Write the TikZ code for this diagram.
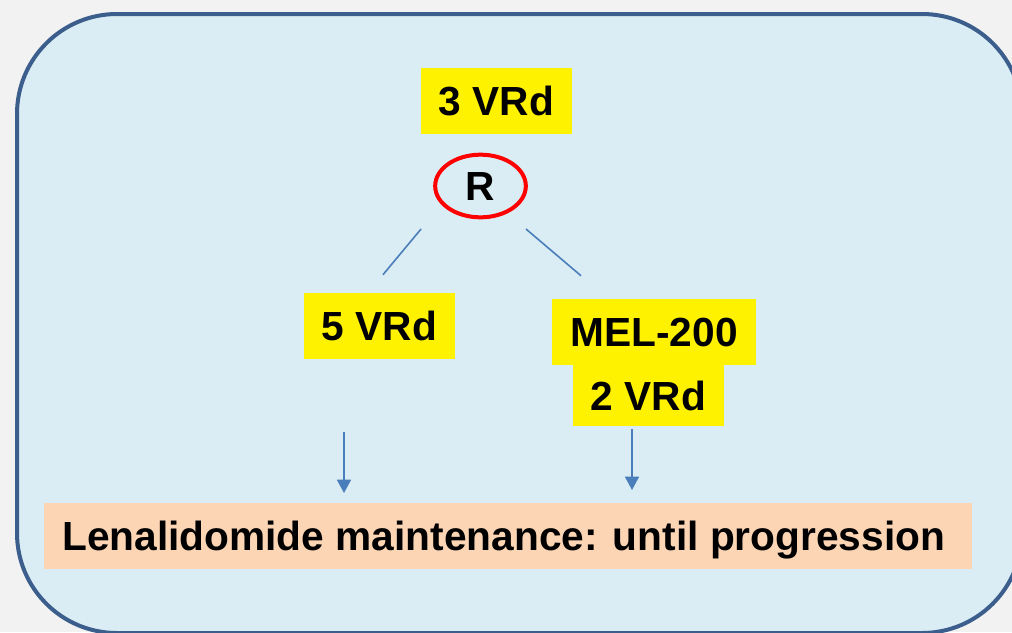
\documentclass[tikz,border=0pt]{standalone}
\usepackage{fontspec}
\setmainfont{Liberation Sans}
\usetikzlibrary{shapes,arrows.meta}
\usetikzlibrary{positioning}

\definecolor{pagegrey}{HTML}{F2F2F2}
\definecolor{panelfill}{HTML}{DBEDF4}
\definecolor{paneledge}{HTML}{3B5E8C}
\definecolor{linkblue}{HTML}{4A7EBB}
\definecolor{peach}{HTML}{FCD5B4}

\begin{document}
\begin{tikzpicture}[x=0.75pt,y=-0.75pt,
  txt/.style={font=\fontsize{30.5}{36}\selectfont\bfseries,text height=22pt,text depth=0pt,inner sep=0pt},
  armbox/.style={txt,fill=yellow,minimum width=113pt,minimum height=49.5pt},
  link/.style={draw=linkblue,line width=1.2pt},
  flow/.style={link,-{Triangle[length=10pt,width=10.5pt]}}]

\useasboundingbox (0,0) rectangle (1012,632);
\fill[pagegrey] (0,0) rectangle (1012,632);
\begin{scope}
\clip (0,0) rectangle (1012,632);
\draw[paneledge,fill=panelfill,line width=3pt,rounded corners=75pt] (17,14) rectangle (1022,633);
\end{scope}

\node[armbox](induct) at (496.5,101){3 VRd};
\node[txt,ellipse,draw=red,line width=3pt,minimum width=68pt,minimum height=47pt](rand) at (480.5,186){R};

\node[armbox](armA) at (379.5,326){5 VRd};
\node[armbox,minimum width=153pt](armBmel) at (654,332){MEL-200};
\node[armbox,minimum height=45.75pt](armBvrd) at (648.5,395.5){2 VRd};

\node[txt,fill=peach,anchor=west,inner xsep=13.5pt,minimum height=49.5pt](maint) at (44,536){\makebox[669pt][l]{Lenalidomide maintenance: until progression}};

% branches of the randomisation
\coordinate (randLL) at ([xshift=-44.6pt,yshift=-32.25pt] rand.center);
\coordinate (randRR) at ([xshift=34.1pt,yshift=-32.25pt] rand.center);
\coordinate (armAtop) at ([xshift=2.6pt,yshift=13.5pt] armA.north);
\coordinate (armBtop) at ([xshift=-54.75pt,yshift=17.25pt] armBmel.north);

\draw[link] (randLL) -- (armAtop);
\draw[link] (randRR) -- (armBtop);

\coordinate (armAout) at (344,432);
\coordinate (armAin) at (344,493);
\coordinate (armBout) at (632,429);
\coordinate (armBin) at (632,490);

\draw[flow] (armAout) -- (armAin);
\draw[flow] (armBout) -- (armBin);

\end{tikzpicture}
\end{document}
